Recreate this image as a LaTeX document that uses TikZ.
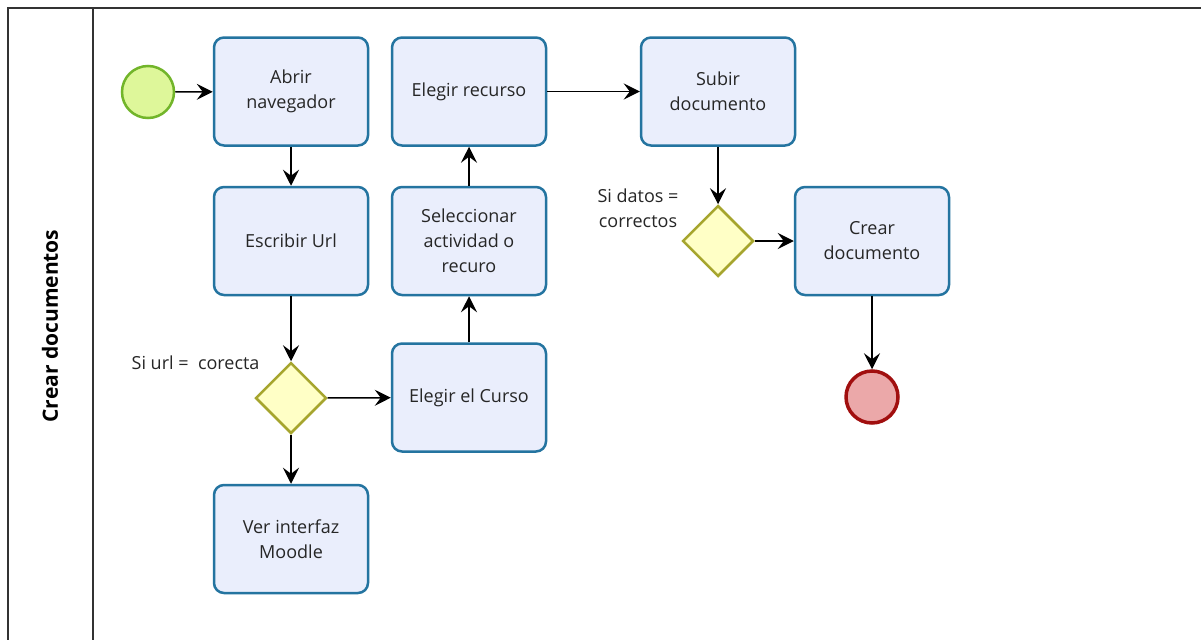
\documentclass[tikz,border=0pt]{standalone}
\usepackage{fontspec}
\setmainfont{Open Sans}
\usetikzlibrary{shapes.geometric,arrows.meta}
\definecolor{taskfill}{HTML}{EAEEFC}
\definecolor{taskdraw}{HTML}{2474A0}
\definecolor{startfill}{HTML}{DEF79A}
\definecolor{startdraw}{HTML}{72B52A}
\definecolor{endfill}{HTML}{EBA8A9}
\definecolor{enddraw}{HTML}{A10F0F}
\definecolor{gwfill}{HTML}{FFFFC6}
\definecolor{gwdraw}{HTML}{A6A52E}
\definecolor{framec}{HTML}{333333}
\tikzset{
  task/.style={rectangle, rounded corners=10pt, minimum width=154pt, minimum height=108pt,
    draw=taskdraw, line width=2.5pt, fill=taskfill, align=center, inner sep=2pt,
    font=\fontsize{18}{25}\selectfont, text=black!85},
  startev/.style={circle, minimum size=52pt, inner sep=0pt, draw=startdraw, fill=startfill, line width=2.5pt},
  endev/.style={circle, minimum size=52pt, inner sep=0pt, draw=enddraw, fill=endfill, line width=3.5pt},
  gateway/.style={diamond, aspect=1, minimum size=71pt, inner sep=0pt, draw=gwdraw, fill=gwfill, line width=2.5pt},
  lbl/.style={align=center, font=\fontsize{18}{25}\selectfont, text=black!85},
  arr/.style={-{Stealth[length=16pt,width=16pt,inset=6pt]}, line width=1.5pt, black},
  framel/.style={line width=1.6pt, draw=framec}
}
\begin{document}
\begin{tikzpicture}[x=1pt,y=-1pt]
\useasboundingbox[fill=white] (0,0) rectangle (1201,640);
\coordinate (tl) at (8,8);
\coordinate (tr) at (1201,8);
\coordinate (bl) at (8,640);
\coordinate (dt) at (93,8);
\coordinate (db) at (93,640);
\draw[framel] (tr) -- (tl) -- (bl);
\draw[framel] (dt) -- (db);
\node[rotate=90, font=\fontsize{21}{24}\selectfont\bfseries] (lane) at (50,326) {Crear documentos};

\node[startev] (start) at (148,92) {};
\node[task] (abrir) at (291,91.5) {Abrir\\navegador};
\node[task] (escribir) at (291,241) {Escribir Url};
\node[gateway] (gw1) at (291,398) {};
\node[task] (ver) at (291,539) {Ver interfaz\\Moodle};
\node[task] (curso) at (469,397.5) {Elegir el Curso};
\node[task] (selec) at (469,241) {Seleccionar\\actividad o\\recuro};
\node[task] (recurso) at (469,91.5) {Elegir recurso};
\node[task] (subir) at (718,91.5) {Subir\\documento};
\node[gateway] (gw2) at (718,241) {};
\node[task] (crear) at (872,241) {Crear\\documento};
\node[endev] (end) at (872,397) {};

\node[lbl, anchor=east] (l1) at (263,363) {Si url =\ \ corecta};
\node[lbl] (l2) at (638,208) {Si datos =\\correctos};

\draw[arr] (start) -- (abrir);
\draw[arr] (abrir) -- (escribir);
\draw[arr] (escribir) -- (gw1);
\draw[arr] (gw1) -- (curso);
\draw[arr] (gw1) -- (ver);
\draw[arr] (curso) -- (selec);
\draw[arr] (selec) -- (recurso);
\draw[arr] (recurso) -- (subir);
\draw[arr] (subir) -- (gw2);
\draw[arr] (gw2) -- (crear);
\draw[arr] (crear) -- (end);
\end{tikzpicture}
\end{document}
